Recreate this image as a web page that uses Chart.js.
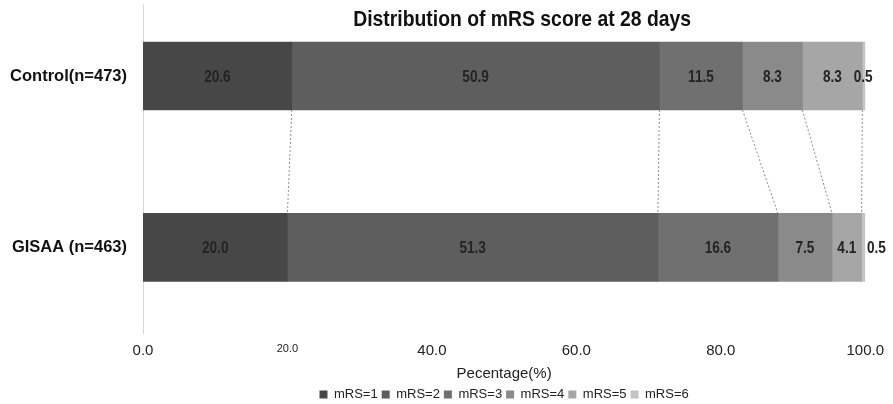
<!DOCTYPE html>
<html>
<head>
<meta charset="utf-8">
<script src="https://cdn.jsdelivr.net/npm/chart.js@4.4.1/dist/chart.umd.min.js"></script>
<style>
  html, body { margin: 0; padding: 0; background: #fff; }
  #wrap { width: 893px; height: 404px; position: relative; }
</style>
</head>
<body>
<div id="wrap"><canvas id="c" width="893" height="404"></canvas></div>
<script>
// ---- data ----
const categories = ['Control(n=473)', 'GISAA (n=463)'];
const seriesNames = ['mRS=1', 'mRS=2', 'mRS=3', 'mRS=4', 'mRS=5', 'mRS=6'];
const mrs1 = [20.6, 20.0];
const mrs2 = [50.9, 51.3];
const mrs3 = [11.5, 16.6];
const mrs4 = [8.3, 7.5];
const mrs5 = [8.3, 4.1];
const mrs6 = [0.5, 0.5];
const xTickValues = [0, 20, 40, 60, 80, 100];
const xTickLabels = ['0.0', '20.0', '40.0', '60.0', '80.0', '100.0'];
const chartTitle = 'Distribution of mRS score at 28 days';
const xAxisTitle = 'Pecentage(%)';

const seriesValues = [mrs1, mrs2, mrs3, mrs4, mrs5, mrs6];
const colors = ['#474747', '#5e5e5e', '#707070', '#8a8a8a', '#a6a6a6', '#c4c4c4'];

const SANS = "'Liberation Sans', Arial, sans-serif";

const datasets = seriesNames.map((name, i) => ({
  label: name,
  data: categories.map((c, j) => ({ x: seriesValues[i][j], y: j })),
  backgroundColor: colors[i],
  borderWidth: 0,
  barThickness: 68,
  grouped: false
}));

function narrowText(ctx, text, x, y, sx) {
  ctx.save();
  ctx.translate(x, y);
  ctx.scale(sx, 1);
  ctx.fillText(text, 0, 0);
  ctx.restore();
}

const overlayPlugin = {
  id: 'overlay',
  afterDatasetsDraw(chart) {
    const ctx = chart.ctx;
    const metas = chart.data.datasets.map((d, i) => chart.getDatasetMeta(i));
    // connector lines between cumulative boundaries
    ctx.save();
    ctx.strokeStyle = '#8c8c8c';
    ctx.lineWidth = 1;
    ctx.setLineDash([2, 2]);
    for (let i = 0; i < metas.length - 1; i++) {
      const a = metas[i].data[0].getProps(['x', 'y', 'height'], true);
      const b = metas[i].data[1].getProps(['x', 'y', 'height'], true);
      ctx.beginPath();
      ctx.moveTo(a.x, a.y + a.height / 2);
      ctx.lineTo(b.x, b.y - b.height / 2);
      ctx.stroke();
    }
    ctx.restore();
    // data labels
    ctx.save();
    ctx.font = "bold 17px " + SANS;
    ctx.fillStyle = '#232323';
    ctx.textAlign = 'center';
    ctx.textBaseline = 'middle';
    const smallShift = [-1, 13];
    metas.forEach((meta, i) => {
      meta.data.forEach((el, j) => {
        const p = el.getProps(['x', 'y', 'base'], true);
        const v = chart.data.datasets[i].data[j].x;
        let cx = (p.x + p.base) / 2;
        if (v < 1) cx += smallShift[j];
        narrowText(ctx, v.toFixed(1), cx, p.y + 1, 0.8);
      });
    });
    ctx.restore();
    // chart title
    ctx.save();
    ctx.font = "bold 22px " + SANS;
    ctx.fillStyle = '#111';
    ctx.textAlign = 'center';
    ctx.textBaseline = 'middle';
    const ca = chart.chartArea;
    narrowText(ctx, chartTitle, (ca.left + ca.right) / 2 + 18, 20, 0.88);
    ctx.restore();
  }
};

new Chart(document.getElementById('c'), {
  type: 'bar',
  data: { datasets },
  plugins: [overlayPlugin],
  options: {
    indexAxis: 'y',
    responsive: false,
    animation: false,
    devicePixelRatio: 1,
    layout: { padding: { top: 4, left: 5, right: 22, bottom: -7 } },
    scales: {
      x: {
        type: 'linear',
        stacked: true,
        min: 0,
        max: 100,
        afterBuildTicks(scale) { scale.ticks = xTickValues.map(v => ({ value: v })); },
        grid: { display: false, drawTicks: false },
        border: { display: false },
        ticks: {
          padding: 9,
          color: '#222',
          font: (ctx) => (ctx.tick && ctx.tick.value === 20)
            ? { size: 11, family: SANS }
            : { size: 15, family: SANS },
          callback: (v) => xTickLabels[xTickValues.indexOf(v)]
        },
        title: {
          display: true,
          text: xAxisTitle,
          color: '#222',
          font: { size: 15, family: SANS },
          padding: { top: -4, bottom: 1 }
        }
      },
      y: {
        type: 'linear',
        stacked: true,
        offset: false,
        reverse: true,
        min: -0.42,
        max: 1.5,
        afterBuildTicks(scale) { scale.ticks = categories.map((c, j) => ({ value: j })); },
        afterFit(scale) { scale.width = 138; scale.paddingTop = 0; scale.paddingBottom = 0; },
        grid: { display: false, drawTicks: false, offset: false },
        border: { display: true, color: '#d9d9d9', width: 1 },
        ticks: {
          padding: 16,
          color: '#111',
          font: { size: 16.5, weight: 'bold', family: SANS },
          callback: (v) => categories[v]
        }
      }
    },
    plugins: {
      legend: {
        position: 'bottom',
        fullSize: false,
        labels: {
          boxWidth: 8,
          boxHeight: 8,
          padding: 4,
          color: '#222',
          font: { size: 13, family: SANS }
        }
      },
      tooltip: { enabled: false },
      title: { display: false }
    }
  }
});
</script>
</body>
</html>
